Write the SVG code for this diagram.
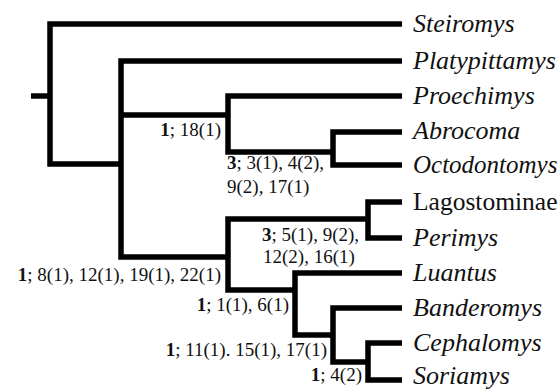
<svg xmlns="http://www.w3.org/2000/svg" width="560" height="390" viewBox="0 0 560 390" font-family="Liberation Serif, serif">
<style>
.e{fill:none;stroke:#000;stroke-width:5.5;stroke-linejoin:miter;stroke-linecap:butt}
.t{font-size:26px;fill:#111}
.i{font-style:italic}
.l{font-size:19px;fill:#111}
.b{font-weight:bold}
</style>
<rect width="560" height="390" fill="#fff"/>
<g id="connectors">
<path class="e" d="M31 96 H50"/>
<path class="e" d="M402 24 H50 V164 H121"/>
<path class="e" d="M402 61 H121 V257 H228"/>
<path class="e" d="M121 115 H228"/>
<path class="e" d="M402 96 H228 V152 H333"/>
<path class="e" d="M402 132 H333 V165 H402"/>
<path class="e" d="M368 219 H228 V290 H295"/>
<path class="e" d="M402 202 H368 V238 H402"/>
<path class="e" d="M402 273 H295 V335 H333"/>
<path class="e" d="M402 308 H333 V362 H368"/>
<path class="e" d="M402 343 H368 V380 H402"/>
</g>
<g id="steiromys"><text class="t i" x="413" y="32">Steiromys</text></g>
<g id="platypittamys"><text class="t i" x="413" y="69">Platypittamys</text></g>
<g id="proechimys"><text class="t i" x="413" y="104">Proechimys</text></g>
<g id="abrocoma"><text class="t i" x="413" y="139">Abrocoma</text></g>
<g id="octodontomys"><text class="t i" x="413" y="173" style="font-size:25px">Octodontomys</text></g>
<g id="lagostominae"><text class="t" x="413" y="210" style="font-size:25.5px">Lagostominae</text></g>
<g id="perimys"><text class="t i" x="413" y="246">Perimys</text></g>
<g id="luantus"><text class="t i" x="413" y="281">Luantus</text></g>
<g id="banderomys"><text class="t i" x="413" y="316">Banderomys</text></g>
<g id="cephalomys"><text class="t i" x="413" y="351">Cephalomys</text></g>
<g id="soriamys"><text class="t i" x="413" y="384">Soriamys</text></g>
<g id="labels">
<text class="l" x="221" y="136" text-anchor="end"><tspan class="b">1</tspan>; 18(1)</text>
<text class="l" x="227" y="169"><tspan class="b">3</tspan>; 3(1), 4(2),</text>
<text class="l" x="227" y="193">9(2), 17(1)</text>
<text class="l" x="262" y="241"><tspan class="b">3</tspan>; 5(1), 9(2),</text>
<text class="l" x="263" y="263">12(2), 16(1)</text>
<text class="l" x="221" y="281" text-anchor="end"><tspan class="b">1</tspan>; 8(1), 12(1), 19(1), 22(1)</text>
<text class="l" x="289" y="311" text-anchor="end"><tspan class="b">1</tspan>; 1(1), 6(1)</text>
<text class="l" x="327" y="356" text-anchor="end"><tspan class="b">1</tspan>; 11(1). 15(1), 17(1)</text>
<text class="l" x="362" y="381" text-anchor="end"><tspan class="b">1</tspan>; 4(2)</text>
</g>
</svg>
